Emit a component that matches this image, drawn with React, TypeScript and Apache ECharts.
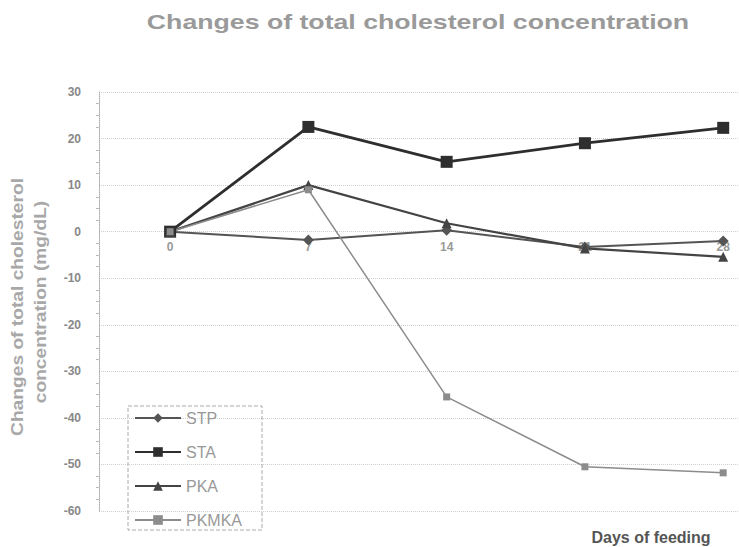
import React, { useEffect, useRef } from "react";
import * as echarts from "echarts";

const days = [0, 7, 14, 21, 28];
const seriesNames = ["STP", "STA", "PKA", "PKMKA"];
const stp = [0, -1.8, 0.3, -3.3, -2.0];
const sta = [0, 22.5, 15.0, 19.0, 22.3];
const pka = [0, 10.0, 1.8, -3.6, -5.4];
const pkmka = [0, 9.0, -35.5, -50.5, -51.8];
const yMin = -60;
const yMax = 30;
const yStep = 10;

const titleText = "Changes of total cholesterol concentration";
const yNameLines = ["Changes of total cholesterol", "concentration (mg/dL)"];
const xNameText = "Days of feeding";

const FONT = "'Liberation Sans', Arial, sans-serif";

export default function App() {
  const ref = useRef<HTMLDivElement>(null);
  useEffect(() => {
    if (!ref.current) return;
    const chart = echarts.init(ref.current, null, { renderer: "svg" });
    const H = 547;
    const gTop = 92;
    const gBottom = 36;
    const gLeft = 99;
    const gHeight = H - gTop - gBottom;
    const zeroOffset = -(gHeight * (0 - yMin)) / (yMax - yMin);
    const mk = (name: string, vals: number[], color: string, symbol: string, size: number, width: number) => ({
      name,
      type: "line",
      data: days.map((d, i) => [d, vals[i]]),
      symbol,
      symbolSize: size,
      lineStyle: { color, width },
      itemStyle: { color },
      emphasis: { disabled: true },
    });
    chart.setOption({
      animation: false,
      backgroundColor: "#ffffff",
      grid: { left: gLeft, right: 0, top: gTop, bottom: gBottom, containLabel: false },
      xAxis: {
        type: "value",
        min: -3.6,
        max: 28.8,
        position: "bottom",
        offset: zeroOffset,
        axisLine: { show: false, onZero: false },
        axisTick: { show: false },
        axisLabel: {
          customValues: days,
          color: "#999",
          fontFamily: FONT,
          fontSize: 12,
          fontWeight: "bold",
          margin: 9,
        },
        splitLine: { show: false },
      },
      yAxis: {
        type: "value",
        min: yMin,
        max: yMax,
        interval: yStep,
        axisLine: { show: true, onZero: false, lineStyle: { color: "#aaa", type: "dotted", width: 1 } },
        axisTick: { show: false },
        minorTick: { show: true, splitNumber: 4, length: 3, lineStyle: { color: "#bbb" } },
        axisLabel: { color: "#888", fontFamily: FONT, fontSize: 12, fontWeight: "bold", margin: 18 },
        splitLine: { show: true, lineStyle: { color: "#cfcfcf", type: "dotted", width: 1 } },
      },
      legend: {
        data: seriesNames,
        orient: "vertical",
        left: 128,
        top: 406,
        itemWidth: 46,
        itemHeight: 12,
        itemGap: 18,
        padding: [4, 20, 2, 6],
        borderColor: "#aaa",
        borderWidth: 1,
        borderType: "dashed",
        textStyle: { color: "#999", fontFamily: FONT, fontSize: 16 },
      },
      series: [
        mk(seriesNames[0], stp, "#555555", "diamond", 11, 2),
        mk(seriesNames[1], sta, "#2e2e2e", "rect", 12, 2.8),
        mk(seriesNames[2], pka, "#444444", "triangle", 10, 2.2),
        mk(seriesNames[3], pkmka, "#8c8c8c", "rect", 7, 1.5),
      ],
      graphic: [
        {
          type: "text",
          x: 418,
          y: 22,
          scaleX: 1.27,
          style: {
            text: titleText,
            fill: "#9a9a9a",
            font: `bold 21px ${FONT}`,
            textAlign: "center",
            textVerticalAlign: "middle",
          },
        },
        {
          type: "text",
          x: 18,
          y: 307,
          rotation: Math.PI / 2,
          scaleX: 1.2,
          style: {
            text: yNameLines[0],
            fill: "#a8a8a8",
            font: `bold 16px ${FONT}`,
            textAlign: "center",
            textVerticalAlign: "middle",
          },
        },
        {
          type: "text",
          x: 41,
          y: 302,
          rotation: Math.PI / 2,
          scaleX: 1.2,
          style: {
            text: yNameLines[1],
            fill: "#a8a8a8",
            font: `bold 16px ${FONT}`,
            textAlign: "center",
            textVerticalAlign: "middle",
          },
        },
        {
          type: "text",
          x: 651,
          y: 537,
          style: {
            text: xNameText,
            fill: "#555",
            font: `bold 16px ${FONT}`,
            textAlign: "center",
            textVerticalAlign: "middle",
          },
        },
      ],
    });
    return () => chart.dispose();
  }, []);
  return <div ref={ref} style={{ width: 739, height: 547, position: "absolute", left: 0, top: 0 }} />;
}
